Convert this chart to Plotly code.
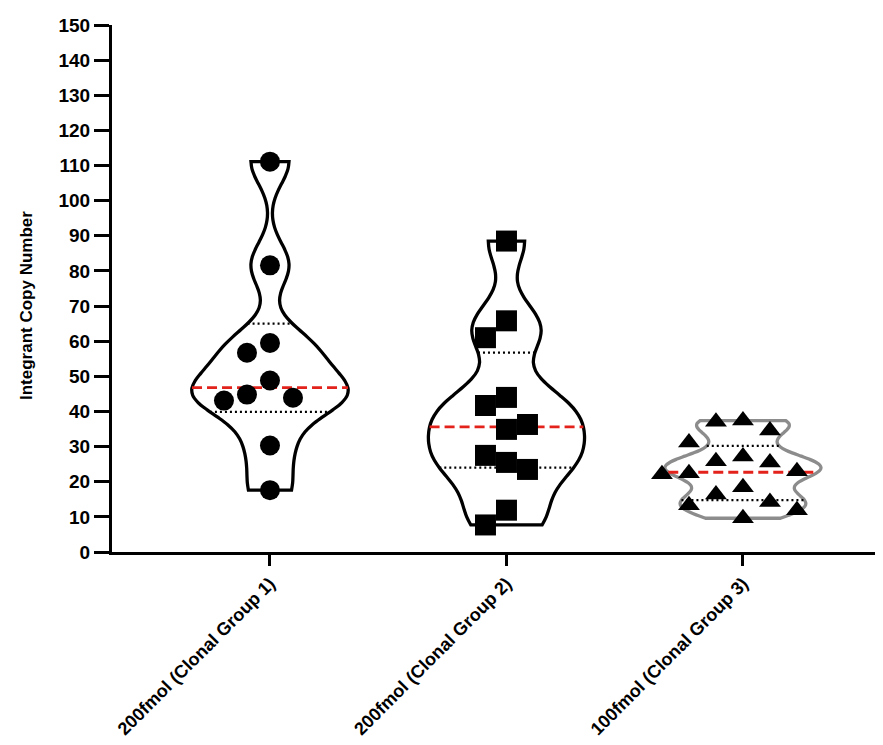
import numpy as np
import plotly.graph_objects as go

# ---------------- data ----------------
categories = ["200fmol (Clonal Group 1)", "200fmol (Clonal Group 2)", "100fmol (Clonal Group 3)"]
group1 = [111.1, 81.6, 59.5, 56.7, 48.8, 43.9, 43.1, 44.8, 30.3, 17.6]
group2 = [88.5, 65.8, 61.0, 44.0, 41.7, 36.3, 34.9, 27.5, 23.5, 25.5, 11.9, 7.7]
group3 = [31.2, 34.6, 37.4, 37.1, 27.2, 25.5, 25.8, 22.1, 23.0, 22.4,
          16.4, 18.4, 14.2, 11.9, 13.3, 9.6]
y_tick_values = list(range(0, 151, 10))

# ---------------- style / layout settings ----------------
W, H = 883, 745
M_L, M_R, M_T, M_B = 104, 0, 17, 201
X_RANGE = [-0.668, 2.626]
Y_RANGE = [0, 150]
VIOLIN_WIDTH = 0.66
bandwidths = [6.3, 7.0, 2.6]
outline_colors = ["black", "black", "#8c8c8c"]
symbols = ["circle", "square", "triangle-up"]
marker_sizes = [20, 21, 19]
swarm_spacing = [23, 21, 27]
swarm_clearance = [1.35, 1.3, 1.6]
FONT = "Arial, Liberation Sans, sans-serif"
RED = "#e3221c"

plot_w = W - M_L - M_R
plot_h = H - M_T - M_B
px_per_x = plot_w / (X_RANGE[1] - X_RANGE[0])
px_per_y = plot_h / (Y_RANGE[1] - Y_RANGE[0])


def kde(vals, t, bw):
    v = np.asarray(vals, float)
    t = np.atleast_1d(np.asarray(t, float))
    return np.exp(-0.5 * ((t[:, None] - v[None, :]) / bw) ** 2).sum(axis=1)


def max_kde(vals, bw):
    lo, hi = min(vals), max(vals)
    n = int(np.ceil((hi - lo) / (bw / 3)))
    ts = np.linspace(lo, hi, n + 1)
    return kde(vals, ts, bw).max()


def swarm(vals, spacing_px, clear_px):
    """Greedy beeswarm: horizontal offsets (px) so markers keep apart."""
    order = sorted(range(len(vals)), key=lambda i: -vals[i])
    placed = []
    offs = [0.0] * len(vals)
    cands = [0]
    for m in range(1, 8):
        cands += [-m, m]
    for i in order:
        y = vals[i] * px_per_y
        for c in cands:
            x = c * spacing_px
            if all(not (abs(x - px) < spacing_px * 0.99 and abs(y - py) < clear_px)
                   for px, py in placed):
                break
        placed.append((x, y))
        offs[i] = x
    return offs


groups = [group1, group2, group3]
fig = go.Figure()

# violins
for gi, vals in enumerate(groups):
    fig.add_trace(go.Violin(
        x=[gi] * len(vals), y=vals, name=categories[gi],
        scalegroup=f"g{gi}", scalemode="width", width=VIOLIN_WIDTH,
        spanmode="hard", bandwidth=bandwidths[gi],
        line=dict(color=outline_colors[gi], width=3.3),
        fillcolor="rgba(255,255,255,0)",
        points=False, box_visible=False, meanline_visible=False,
        hoverinfo="skip", showlegend=False,
    ))

# median (red dashed) and quartiles (black dotted)
for gi, vals in enumerate(groups):
    bw = bandwidths[gi]
    mk = max_kde(vals, bw)
    q1, med, q3 = np.percentile(vals, [25, 50, 75], method="weibull")
    for q, color, dash, lw in [(q1, "black", "2px,3px", 2.2),
                               (q3, "black", "2px,3px", 2.2),
                               (med, RED, "10px,5px", 2.8)]:
        hw = VIOLIN_WIDTH / 2 * kde(vals, q, bw)[0] / mk
        fig.add_trace(go.Scatter(
            x=[gi - hw, gi + hw], y=[q, q], mode="lines",
            line=dict(color=color, width=lw, dash=dash),
            hoverinfo="skip", showlegend=False,
        ))

# points
for gi, vals in enumerate(groups):
    offs = swarm(vals, swarm_spacing[gi], marker_sizes[gi] * swarm_clearance[gi])
    xs = [gi + o / px_per_x for o in offs]
    fig.add_trace(go.Scatter(
        x=xs, y=vals, mode="markers",
        marker=dict(symbol=symbols[gi], size=marker_sizes[gi], color="black",
                    line=dict(width=0)),
        hoverinfo="skip", showlegend=False,
    ))

fig.update_layout(
    width=W, height=H,
    margin=dict(l=M_L, r=M_R, t=M_T, b=M_B, pad=0),
    plot_bgcolor="white", paper_bgcolor="white",
    font=dict(family=FONT, color="black"),
    violinmode="overlay",
    xaxis=dict(
        range=X_RANGE, tickvals=[0, 1, 2], ticktext=categories,
        tickangle=-45, tickfont=dict(size=18, weight="bold", family=FONT),
        showline=True, linecolor="black", linewidth=3,
        ticks="outside", tickwidth=3, ticklen=11, tickcolor="black",
        showgrid=False, zeroline=False,
    ),
    yaxis=dict(
        range=Y_RANGE, tickvals=y_tick_values,
        tickfont=dict(size=19, weight="bold", family=FONT),
        showline=True, linecolor="black", linewidth=3,
        ticks="outside", tickwidth=3, ticklen=15, tickcolor="black",
        showgrid=False, zeroline=False,
    ),
    annotations=[dict(
        text="Integrant Copy Number", textangle=-90,
        xref="paper", yref="paper",
        x=(18 - M_L) / plot_w, y=(H - M_B - 298) / plot_h,
        xanchor="center", yanchor="middle", showarrow=False,
        font=dict(size=17, weight="bold", family=FONT),
    )],
)

fig.write_html("out.html")
